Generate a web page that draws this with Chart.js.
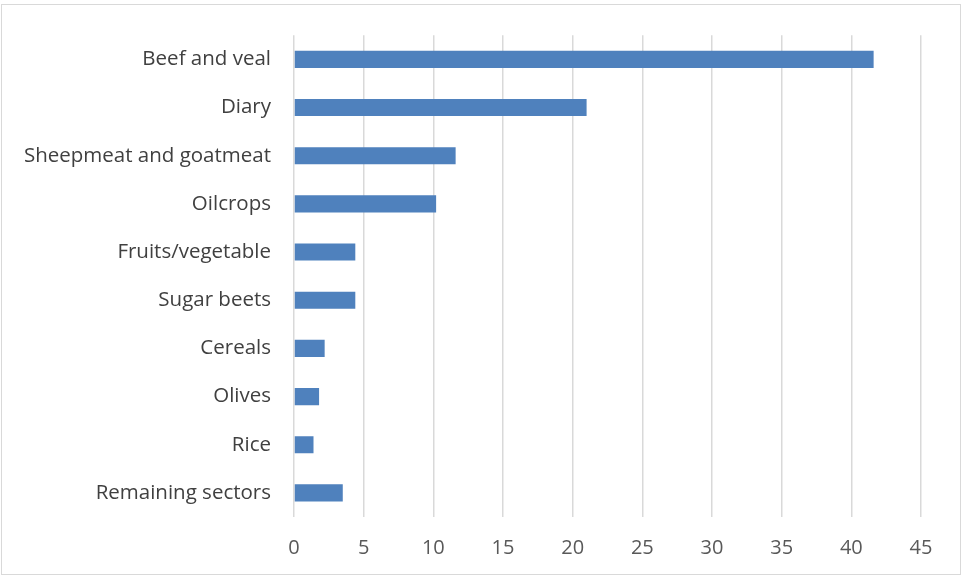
<!DOCTYPE html>
<html>
<head>
<meta charset="utf-8">
<script src="https://cdn.jsdelivr.net/npm/chart.js@4"></script>
<style>
  html, body { margin: 0; padding: 0; background: #fff; }
  #wrap { width: 963px; height: 577px; position: relative; }
</style>
</head>
<body>
<div id="wrap"><canvas id="chart" width="963" height="577"></canvas></div>
<script>
// categories, top to bottom
const sectors = ['Beef and veal', 'Diary', 'Sheepmeat and goatmeat', 'Oilcrops', 'Fruits/vegetable',
  'Sugar beets', 'Cereals', 'Olives', 'Rice', 'Remaining sectors'];
const shares = [41.6, 21.0, 11.6, 10.2, 4.4, 4.4, 2.2, 1.8, 1.4, 3.5];
const xTicks = [0, 5, 10, 15, 20, 25, 30, 35, 40, 45];

const FONT = "'Open Sans', 'Liberation Sans', sans-serif";

// light grey frame round the whole chart
const framePlugin = {
  id: 'frame',
  beforeDraw(chart) {
    const ctx = chart.ctx;
    ctx.save();
    ctx.strokeStyle = '#d9d9d9';
    ctx.lineWidth = 1;
    ctx.strokeRect(1.5, 4.5, 959, 570);
    ctx.restore();
  }
};

const ctx = document.getElementById('chart').getContext('2d');
new Chart(ctx, {
  type: 'bar',
  data: {
    labels: sectors,
    datasets: [{
      data: shares,
      backgroundColor: '#4f81bd',
      borderWidth: 0,
      categoryPercentage: 1,
      barPercentage: 0.355
    }]
  },
  options: {
    indexAxis: 'y',
    responsive: false,
    animation: false,
    layout: { padding: { top: 33, right: 42, bottom: 0, left: 0 } },
    plugins: {
      legend: { display: false },
      tooltip: { enabled: false }
    },
    scales: {
      x: {
        min: 0,
        max: 45,
        afterBuildTicks(scale) { scale.ticks = xTicks.map(v => ({ value: v })); },
        afterFit(scale) { scale.height = 60; },
        grid: { color: '#d9d9d9', lineWidth: 1.5, drawTicks: false },
        border: { display: false },
        ticks: { padding: 19, color: '#595959', font: { family: FONT, size: 20 } }
      },
      y: {
        afterFit(scale) { scale.width = 294; },
        grid: { display: false, drawTicks: false },
        border: { display: false },
        ticks: { padding: 23, color: '#404040', font: { family: FONT, size: 20.5 } }
      }
    }
  },
  plugins: [framePlugin]
});
</script>
</body>
</html>
